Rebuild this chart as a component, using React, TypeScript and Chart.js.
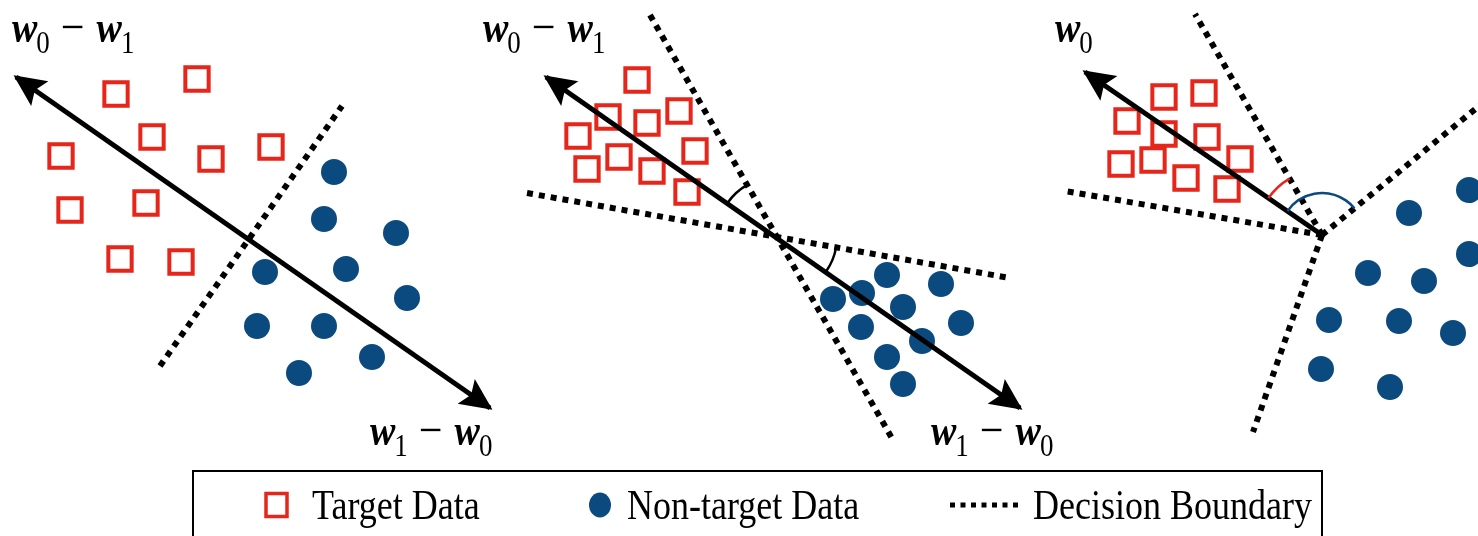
import React, { useEffect, useRef } from "react";
import { Chart, registerables } from "chart.js";

Chart.register(...registerables);

const W = 1478;
const H = 536;

// ---------- Data (diagram coordinates) ----------
// Panel 1
const targetPanel1 = [
  { x: 197, y: 79 }, { x: 116, y: 94 }, { x: 152, y: 137 }, { x: 61, y: 156 }, { x: 211, y: 159 },
  { x: 271, y: 147 }, { x: 70, y: 210 }, { x: 146, y: 203 }, { x: 120, y: 259 }, { x: 181, y: 262 },
];
const nonTargetPanel1 = [
  { x: 334, y: 172 }, { x: 324, y: 219 }, { x: 396, y: 233 }, { x: 265, y: 272 }, { x: 346, y: 269 },
  { x: 407, y: 298 }, { x: 257, y: 326 }, { x: 324, y: 326 }, { x: 372, y: 357 }, { x: 299, y: 373 },
];
const boundaryPanel1 = [{ x: 160, y: 366 }, { x: 342, y: 106 }];
const arrowPanel1 = [{ x: 16, y: 77 }, { x: 490, y: 408 }];

// Panel 2
const targetPanel2 = [
  { x: 637, y: 80 }, { x: 608, y: 117 }, { x: 647, y: 123 }, { x: 679, y: 111 }, { x: 578, y: 136 },
  { x: 619, y: 157 }, { x: 695, y: 151 }, { x: 587, y: 169 }, { x: 652, y: 171 }, { x: 687, y: 192 },
];
const nonTargetPanel2 = [
  { x: 887, y: 275 }, { x: 941, y: 284 }, { x: 833, y: 299 }, { x: 862, y: 293 }, { x: 903, y: 307 },
  { x: 961, y: 323 }, { x: 861, y: 327 }, { x: 922, y: 341 }, { x: 887, y: 357 }, { x: 903, y: 384 },
];
const boundaryPanel2a = [{ x: 650, y: 15 }, { x: 893, y: 440 }];
const boundaryPanel2b = [{ x: 527, y: 193 }, { x: 1010, y: 278 }];
const arrowPanel2 = [{ x: 546, y: 77 }, { x: 1020, y: 408 }];
const crossPanel2 = { x: 777, y: 237 };

// Panel 3
const targetPanel3 = [
  { x: 1164, y: 97 }, { x: 1204, y: 93 }, { x: 1127, y: 121 }, { x: 1164, y: 134 }, { x: 1207, y: 137 },
  { x: 1240, y: 159 }, { x: 1121, y: 164 }, { x: 1153, y: 160 }, { x: 1186, y: 178 }, { x: 1227, y: 189 },
];
const nonTargetPanel3 = [
  { x: 1469, y: 190 }, { x: 1409, y: 213 }, { x: 1469, y: 254 }, { x: 1368, y: 273 }, { x: 1424, y: 281 },
  { x: 1329, y: 320 }, { x: 1399, y: 321 }, { x: 1453, y: 333 }, { x: 1321, y: 369 }, { x: 1390, y: 387 },
];
const vertexPanel3 = { x: 1322, y: 235 };
const boundaryPanel3Ends = [{ x: 1195, y: 14 }, { x: 1065, y: 191 }, { x: 1253, y: 432 }, { x: 1490, y: 97 }];
const arrowPanel3 = [{ x: 1322, y: 235 }, { x: 1085, y: 72 }];

// Text
const axisLabels = ["w0 − w1", "w1 − w0", "w0 − w1", "w1 − w0", "w0"];
const legendLabels = ["Target Data", "Non-target Data", "Decision Boundary"];

// ---------- Layout / style constants ----------
const RED = "#e6261a";
const BLUE = "#0b4a7e";
const DASH = [6, 6];
const STRETCH = 1.15;
const labelPos = [
  { x: 12, y: 42 },
  { x: 370, y: 445 },
  { x: 483, y: 42 },
  { x: 931, y: 445 },
  { x: 1055, y: 42 },
];

const arrowHeads = [
  { tip: arrowPanel1[0], from: arrowPanel1[1] },
  { tip: arrowPanel1[1], from: arrowPanel1[0] },
  { tip: arrowPanel2[0], from: arrowPanel2[1] },
  { tip: arrowPanel2[1], from: arrowPanel2[0] },
  { tip: arrowPanel3[1], from: arrowPanel3[0] },
];

const angleArcs = [
  { c: crossPanel2, a: arrowPanel2[0], b: boundaryPanel2a[0], r: 60, color: "#000" },
  { c: crossPanel2, a: boundaryPanel2b[1], b: arrowPanel2[1], r: 60, color: "#000" },
  { c: vertexPanel3, a: arrowPanel3[1], b: boundaryPanel3Ends[0], r: 65, color: RED },
  { c: vertexPanel3, a: arrowPanel3[1], b: boundaryPanel3Ends[3], r: 42, color: BLUE },
];

const SERIF = '"Liberation Serif", "Times New Roman", serif';

function stretchedText(ctx: CanvasRenderingContext2D, t: string, x: number, y: number) {
  ctx.save();
  ctx.translate(x, y);
  ctx.scale(1, STRETCH);
  ctx.fillText(t, 0, 0);
  ctx.restore();
}

function drawMath(ctx: CanvasRenderingContext2D, text: string, x: number, y: number) {
  let cx = x;
  ctx.fillStyle = "#000";
  ctx.textBaseline = "alphabetic";
  ctx.textAlign = "left";
  for (const ch of text) {
    if (ch === "w") {
      ctx.font = `italic bold 38px ${SERIF}`;
      stretchedText(ctx, ch, cx, y);
      cx += ctx.measureText(ch).width - 1;
    } else if (/[0-9]/.test(ch)) {
      ctx.font = `27px ${SERIF}`;
      stretchedText(ctx, ch, cx, y + 11);
      cx += ctx.measureText(ch).width;
    } else if (ch === "−") {
      cx += 11;
      ctx.font = `42px ${SERIF}`;
      stretchedText(ctx, ch, cx, y + 1);
      cx += ctx.measureText(ch).width + 12;
    }
  }
}

const diagramPlugin = {
  id: "diagram",
  afterDatasetsDraw(chart: any) {
    const ctx: CanvasRenderingContext2D = chart.ctx;
    const xs = chart.scales.x;
    const ys = chart.scales.y;
    const px = (p: { x: number; y: number }) => ({ x: xs.getPixelForValue(p.x), y: ys.getPixelForValue(p.y) });

    ctx.save();
    // arrow heads
    for (const h of arrowHeads) {
      const t = px(h.tip);
      const f = px(h.from);
      const dx = t.x - f.x;
      const dy = t.y - f.y;
      const len = Math.hypot(dx, dy);
      const ux = dx / len;
      const uy = dy / len;
      const nx = -uy;
      const ny = ux;
      const tx = t.x + ux * 3;
      const ty = t.y + uy * 3;
      const L = 32;
      const hw = 15;
      ctx.beginPath();
      ctx.moveTo(tx, ty);
      ctx.lineTo(tx - ux * L + nx * hw, ty - uy * L + ny * hw);
      ctx.lineTo(tx - ux * (L - 6), ty - uy * (L - 6));
      ctx.lineTo(tx - ux * L - nx * hw, ty - uy * L - ny * hw);
      ctx.closePath();
      ctx.fillStyle = "#000";
      ctx.fill();
    }
    // angle arcs
    for (const a of angleArcs) {
      const c = px(a.c);
      const p1 = px(a.a);
      const p2 = px(a.b);
      const a1 = Math.atan2(p1.y - c.y, p1.x - c.x);
      const a2 = Math.atan2(p2.y - c.y, p2.x - c.x);
      ctx.beginPath();
      ctx.arc(c.x, c.y, a.r, a1, a2, false);
      ctx.strokeStyle = a.color;
      ctx.lineWidth = 2.5;
      ctx.stroke();
    }
    ctx.restore();
  },
  afterDraw(chart: any) {
    const ctx: CanvasRenderingContext2D = chart.ctx;
    const xs = chart.scales.x;
    const ys = chart.scales.y;
    const X = (v: number) => xs.getPixelForValue(v);
    const Y = (v: number) => ys.getPixelForValue(v);
    ctx.save();
    axisLabels.forEach((t, i) => drawMath(ctx, t, X(labelPos[i].x), Y(labelPos[i].y)));

    // legend box
    ctx.strokeStyle = "#000";
    ctx.lineWidth = 2;
    ctx.strokeRect(X(193), Y(471), X(1322) - X(193), 120);

    const cy = Y(505);
    // target marker
    ctx.strokeStyle = RED;
    ctx.lineWidth = 3.5;
    ctx.strokeRect(X(266), cy - 11.5, 21, 23);
    // non-target marker
    ctx.fillStyle = BLUE;
    ctx.beginPath();
    ctx.ellipse(X(600), cy, 11, 12.5, 0, 0, Math.PI * 2);
    ctx.fill();
    // boundary marker
    ctx.strokeStyle = "#000";
    ctx.lineWidth = 5;
    ctx.setLineDash([5, 5.5]);
    ctx.beginPath();
    ctx.moveTo(X(950), cy);
    ctx.lineTo(X(1020), cy);
    ctx.stroke();
    ctx.setLineDash([]);

    ctx.fillStyle = "#000";
    ctx.font = `36px ${SERIF}`;
    ctx.textBaseline = "alphabetic";
    ctx.textAlign = "left";
    const lx = [312, 627, 1033];
    legendLabels.forEach((t, i) => stretchedText(ctx, t, X(lx[i]), Y(519)));
    ctx.restore();
  },
};

function boundary(data: { x: number; y: number }[]) {
  return {
    label: "Decision Boundary",
    data,
    showLine: true,
    pointRadius: 0,
    borderColor: "#000",
    borderWidth: 6,
    borderDash: DASH,
    borderCapStyle: "butt",
    tension: 0,
    order: 1,
  };
}
function arrow(data: { x: number; y: number }[]) {
  return {
    label: "arrow",
    data,
    showLine: true,
    pointRadius: 0,
    borderColor: "#000",
    borderWidth: 5,
    borderCapStyle: "butt",
    tension: 0,
    order: 0,
  };
}
function targets(data: { x: number; y: number }[]) {
  return {
    label: "Target Data",
    data,
    showLine: false,
    pointStyle: "rect",
    pointRadius: 16.5,
    pointBorderWidth: 4,
    pointBorderColor: RED,
    pointBackgroundColor: "rgba(0,0,0,0)",
    order: 2,
  };
}
function nonTargets(data: { x: number; y: number }[]) {
  return {
    label: "Non-target Data",
    data,
    showLine: false,
    pointStyle: "circle",
    pointRadius: 13,
    pointBorderWidth: 0,
    pointBackgroundColor: BLUE,
    pointBorderColor: BLUE,
    order: 2,
  };
}

export default function App() {
  const ref = useRef<HTMLCanvasElement | null>(null);
  useEffect(() => {
    if (!ref.current) return;
    const chart = new Chart(ref.current, {
      type: "scatter",
      data: {
        datasets: [
          arrow(arrowPanel1),
          arrow(arrowPanel2),
          arrow(arrowPanel3),
          boundary(boundaryPanel1),
          boundary(boundaryPanel2a),
          boundary(boundaryPanel2b),
          ...boundaryPanel3Ends.map((e) => boundary([vertexPanel3, e])),
          targets(targetPanel1),
          targets(targetPanel2),
          targets(targetPanel3),
          nonTargets(nonTargetPanel1),
          nonTargets(nonTargetPanel2),
          nonTargets(nonTargetPanel3),
        ] as any,
      },
      options: {
        responsive: false,
        maintainAspectRatio: false,
        animation: false,
        events: [],
        layout: { padding: 0, autoPadding: false },
        plugins: { legend: { display: false }, tooltip: { enabled: false } },
        scales: {
          x: { type: "linear", min: 0, max: W, display: false },
          y: { type: "linear", min: 0, max: H, reverse: true, display: false },
        },
      },
      plugins: [diagramPlugin],
    });
    return () => chart.destroy();
  }, []);
  return (
    <div style={{ position: "fixed", left: 0, top: 0, width: W, height: H, background: "#fff" }}>
      <canvas ref={ref} width={W} height={H} style={{ display: "block", width: W, height: H }} />
    </div>
  );
}
